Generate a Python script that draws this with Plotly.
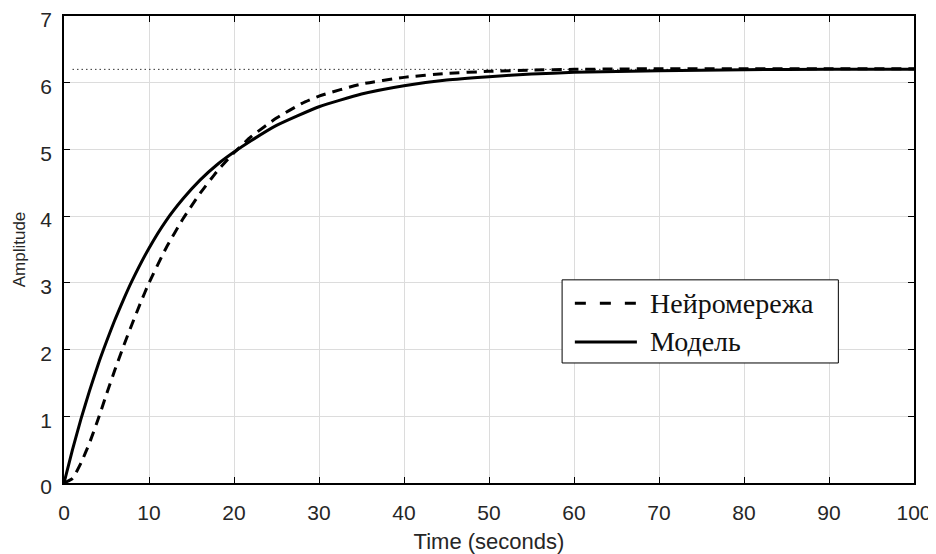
import plotly.graph_objects as go

# Time axis values (seconds) and amplitudes
t_model = [0, 1, 2, 3, 4, 5, 6, 7, 8, 10, 12, 14, 16, 18, 20, 22, 25, 30, 35, 40, 45, 50, 55, 60, 70, 80, 90, 100]
y_model = [0, 0.5, 0.96, 1.38, 1.77, 2.12, 2.45, 2.75, 3.03, 3.52, 3.93, 4.26, 4.54, 4.77, 4.96, 5.13, 5.36, 5.64, 5.83, 5.955, 6.04, 6.09, 6.13, 6.155, 6.18, 6.195, 6.2, 6.2]

t_nn = [0, 1, 2, 3, 4, 5, 6, 7, 8, 9, 10, 12, 14, 16, 18, 20, 22, 25, 28, 30, 35, 40, 45, 50, 55, 60, 70, 80, 90, 100]
y_nn = [0, 0.07, 0.3, 0.6, 0.95, 1.33, 1.7, 2.05, 2.38, 2.7, 3.0, 3.52, 3.96, 4.34, 4.67, 4.95, 5.19, 5.47, 5.69, 5.8, 5.98, 6.08, 6.14, 6.17, 6.19, 6.2, 6.21, 6.21, 6.21, 6.21]

t_steady = [1, 100]
y_steady = [6.2, 6.2]

names = ["Нейромережа", "Модель"]
x_ticks = list(range(0, 101, 10))
y_ticks = list(range(0, 8))

NN_DASH = "10px,7px"

fig = go.Figure()
fig.add_trace(go.Scatter(x=t_steady, y=y_steady, mode="lines", showlegend=False,
                         line=dict(color="#333333", width=1, dash="1.5px,3px"), hoverinfo="skip"))
fig.add_trace(go.Scatter(x=t_nn, y=y_nn, mode="lines", name=names[0], showlegend=False,
                         line=dict(color="black", width=3, dash=NN_DASH, shape="spline", smoothing=0.5)))
fig.add_trace(go.Scatter(x=t_model, y=y_model, mode="lines", name=names[1], showlegend=False,
                         line=dict(color="black", width=3, shape="spline", smoothing=0.5)))

# Legend box drawn in paper coordinates (MATLAB-style legend with long line samples)
leg_x0, leg_x1, leg_y0, leg_y1 = 0.586, 0.911, 0.257, 0.435
sample_x0, sample_x1, text_x = 0.601, 0.674, 0.687
row_y = [0.385, 0.302]
fig.add_shape(type="rect", xref="paper", yref="paper", x0=leg_x0, x1=leg_x1, y0=leg_y0, y1=leg_y1,
              line=dict(color="black", width=1), fillcolor="white", layer="above")
fig.add_shape(type="line", xref="paper", yref="paper", x0=sample_x0, x1=sample_x1, y0=row_y[0], y1=row_y[0],
              line=dict(color="black", width=3, dash="11px,14px"), layer="above")
fig.add_shape(type="line", xref="paper", yref="paper", x0=sample_x0, x1=sample_x1, y0=row_y[1], y1=row_y[1],
              line=dict(color="black", width=3), layer="above")
for name, ry in zip(names, row_y):
    fig.add_annotation(text=name, xref="paper", yref="paper", x=text_x, y=ry, xanchor="left", yanchor="middle",
                       showarrow=False,
                       font=dict(family="Liberation Serif, Times New Roman", size=28, color="#111111"))

axis_common = dict(showline=True, linecolor="black", linewidth=1.5, mirror="ticks",
                   ticks="inside", ticklen=6, tickcolor="black", tickwidth=1,
                   showgrid=True, gridcolor="#dcdcdc", gridwidth=1, zeroline=False,
                   automargin=False, ticklabeloverflow="allow",
                   tickfont=dict(family="Liberation Sans, Arial", size=21, color="#262626"))

fig.update_layout(
    width=928, height=546,
    margin=dict(l=56, r=22, t=8, b=71),
    paper_bgcolor="white", plot_bgcolor="white",
    xaxis=dict(range=[0, 100], tickvals=x_ticks, ticktext=[str(v) for v in x_ticks],
               ticklabelstandoff=10,
               title=dict(text="Time (seconds)", font=dict(family="Liberation Sans, Arial", size=22, color="#262626"), standoff=11),
               **axis_common),
    yaxis=dict(range=[0, 7], tickvals=y_ticks, ticktext=[str(v) for v in y_ticks],
               ticklabelstandoff=6, ticklabelshift=4,
               title=dict(text="Amplitude", font=dict(family="Liberation Sans, Arial", size=17, color="#262626"), standoff=10),
               **axis_common),
    showlegend=False,
)

fig.write_html("out.html")
